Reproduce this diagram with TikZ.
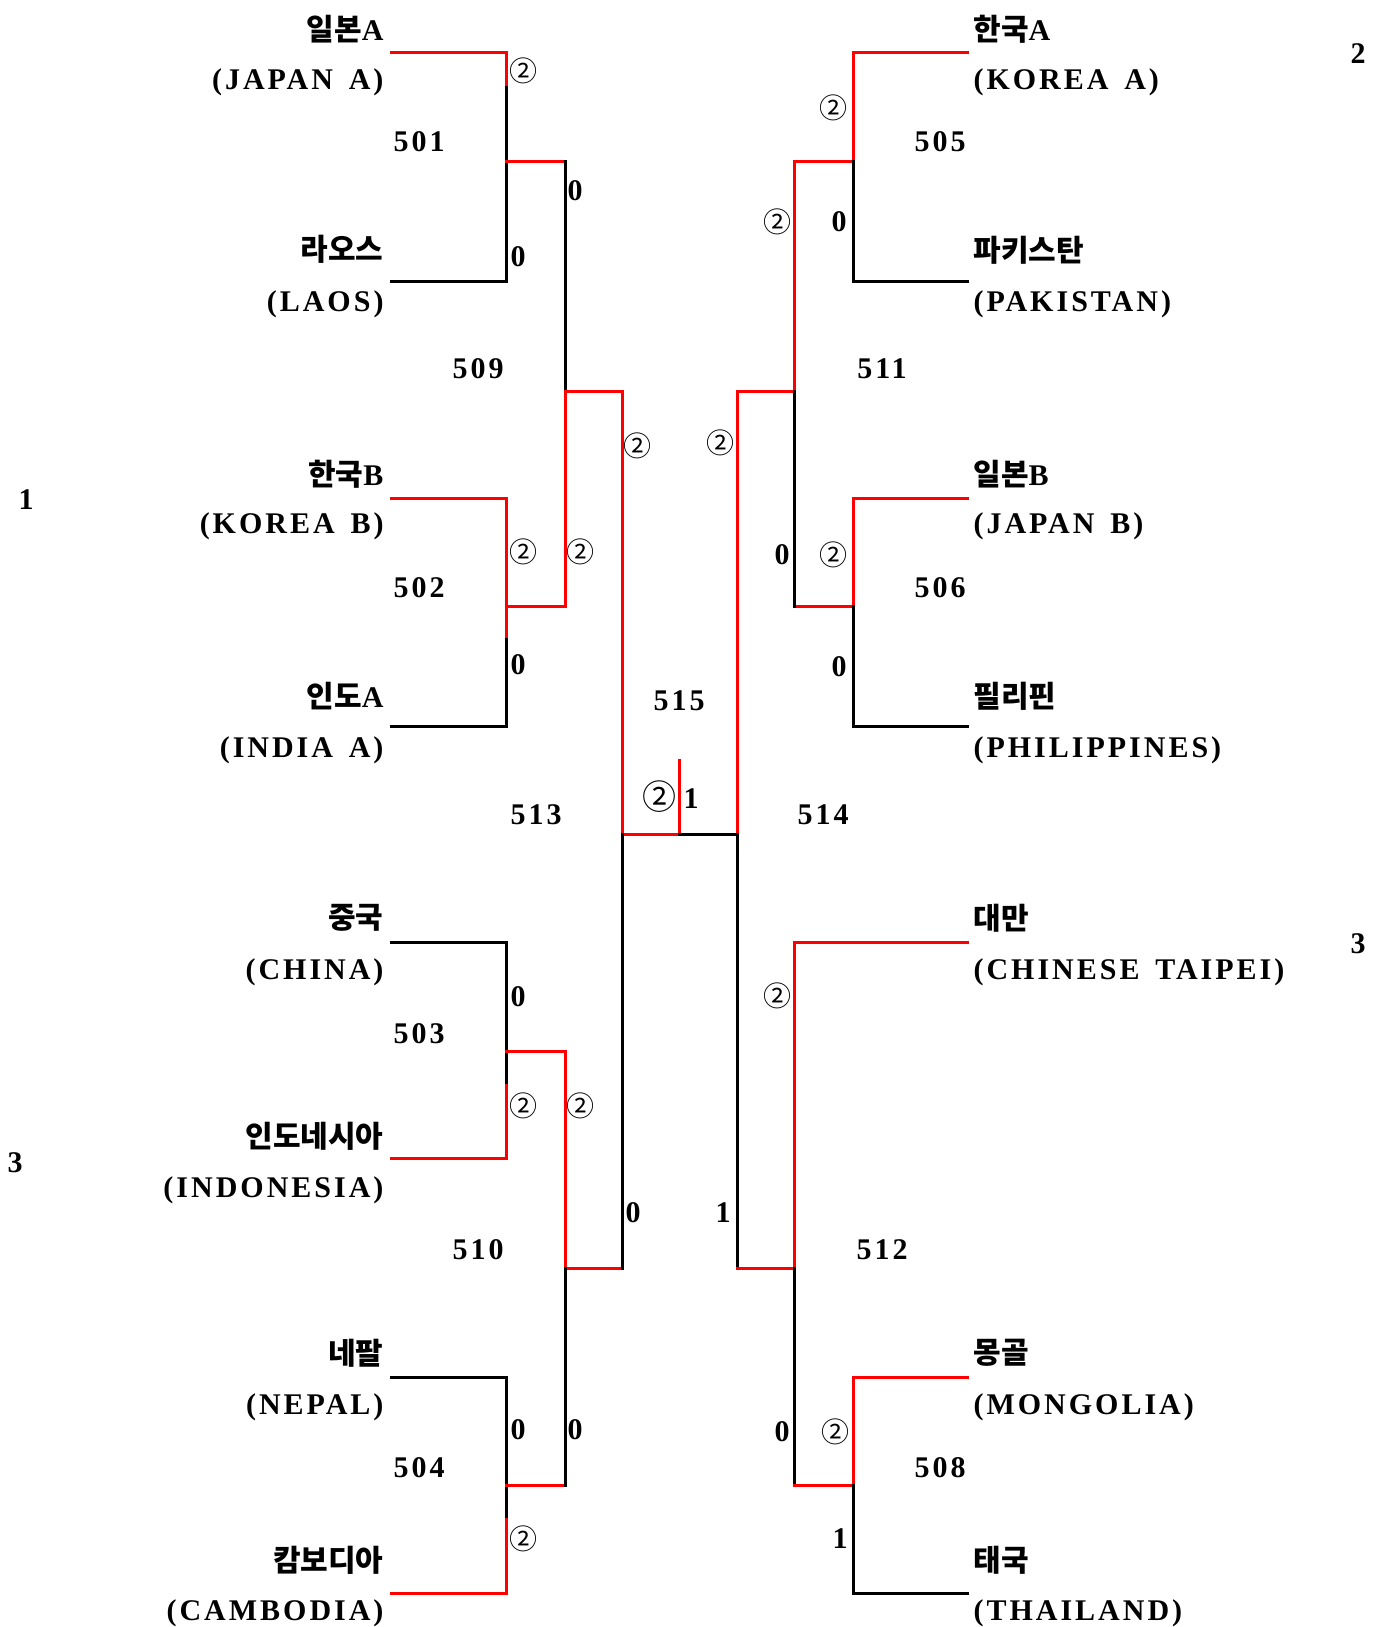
\documentclass[tikz,border=0pt]{standalone}
\usepackage{fontspec}
\setmainfont{Liberation Serif}[LetterSpace=10,WordSpace=1.5]
\newfontfamily\krfont{Noto Sans CJK KR}
\newfontfamily\circfont{Noto Sans CJK KR}

\begin{document}
\begin{tikzpicture}[x=0.5pt,y=-0.5pt,line width=1.5pt,line cap=rect,
  every node/.style={inner sep=0pt,font=\fontsize{15pt}{18pt}\selectfont\bfseries},
  win/.style={red},
  lname/.style={anchor=east},
  rname/.style={anchor=west},
  circ/.style={font=\circfont\fontsize{14pt}{16pt}\selectfont},
  bigcirc/.style={font=\circfont\fontsize{17pt}{19pt}\selectfont}]
\path[use as bounding box,fill=white] (0,0) rectangle (1380,1627);

\coordinate (JPA) at (391,53);   \coordinate (LAO) at (391,281);
\coordinate (KORB) at (391,498); \coordinate (IND) at (391,726);
\coordinate (CHN) at (391,942);  \coordinate (IDN) at (391,1158);
\coordinate (NEP) at (391,1377); \coordinate (CAM) at (391,1593);
\coordinate (KORA) at (967,53);  \coordinate (PAK) at (967,281);
\coordinate (JPB) at (967,498);  \coordinate (PHI) at (967,726);
\coordinate (TPE) at (967,942);
\coordinate (MGL) at (967,1377); \coordinate (THA) at (967,1593);

\coordinate (m501) at (506,161);  \coordinate (s501) at (506,88);
\coordinate (m502) at (506,606);  \coordinate (s502) at (506,639);
\coordinate (m503) at (506,1051); \coordinate (s503) at (506,1085);
\coordinate (m504) at (506,1485); \coordinate (s504) at (506,1519);
\coordinate (m509) at (565,391);  \coordinate (m510) at (565,1268);
\coordinate (m513) at (622,834);
\coordinate (c515) at (679,834);  \coordinate (t515) at (679,760);
\coordinate (m514) at (737,834);
\coordinate (m511) at (794,391);  \coordinate (m512) at (794,1268);
\coordinate (m505) at (853,161);  \coordinate (m506) at (853,606);
\coordinate (m508) at (853,1485);

\draw[win] (JPA) -| (s501);  \draw (LAO) -| (s501);
\draw[win] (m501) -- (m501-|m509);
\draw[win] (KORB) -| (s502); \draw (IND) -| (s502);
\draw[win] (m502) -- (m502-|m509);
\draw (CHN) -| (s503);       \draw[win] (IDN) -| (s503);
\draw[win] (m503) -- (m503-|m510);
\draw (NEP) -| (s504);       \draw[win] (CAM) -| (s504);
\draw[win] (m504) -- (m504-|m510);
\draw (m501-|m509) -- (m509);
\draw[win] (m502-|m509) -- (m509) -- (m509-|m513);
\draw[win] (m503-|m510) -- (m510) -- (m510-|m513);
\draw (m504-|m510) -- (m510);
\draw[win] (m509-|m513) -- (m513) -- (c515) -- (t515);
\draw (m510-|m513) -- (m513);
\draw (c515) -- (m514);
\draw[win] (m511-|m514) -- (m514);
\draw (m512-|m514) -- (m514);
\draw[win] (KORA) -| (m505) -- (m505-|m511); \draw (PAK) -| (m505);
\draw[win] (JPB) -| (m506) -- (m506-|m511);  \draw (PHI) -| (m506);
\draw[win] (m505-|m511) -- (m511) -- (m511-|m514);
\draw (m506-|m511) -- (m511);
\draw[win] (TPE) -| (m512) -- (m512-|m514);
\draw (m508-|m512) -- (m512);
\draw[win] (MGL) -| (m508) -- (m508-|m512); \draw (THA) -| (m508);

\node[lname] (JPAk) at (385,29) {{\krfont 일본}A};
\node[lname] (JPAe) at (385,82) {(JAPAN A)};
\node[lname] (LAOk) at (385,249) {{\krfont 라오스}};
\node[lname] (LAOe) at (385,304) {(LAOS)};
\node[lname] (KORBk) at (385,474) {{\krfont 한국}B};
\node[lname] (KORBe) at (385,526) {(KOREA B)};
\node[lname] (INDk) at (385,696) {{\krfont 인도}A};
\node[lname] (INDe) at (385,750) {(INDIA A)};
\node[lname] (CHNk) at (385,918) {{\krfont 중국}};
\node[lname] (CHNe) at (385,972) {(CHINA)};
\node[lname] (IDNk) at (385,1136) {{\krfont 인도네시아}};
\node[lname] (IDNe) at (385,1190) {(INDONESIA)};
\node[lname] (NEPk) at (385,1353) {{\krfont 네팔}};
\node[lname] (NEPe) at (385,1407) {(NEPAL)};
\node[lname] (CAMk) at (385,1560) {{\krfont 캄보디아}};
\node[lname] (CAMe) at (385,1613) {(CAMBODIA)};
\node[rname] (KORAk) at (972,29) {{\krfont 한국}A};
\node[rname] (KORAe) at (972,82) {(KOREA A)};
\node[rname] (PAKk) at (972,250) {{\krfont 파키스탄}};
\node[rname] (PAKe) at (972,304) {(PAKISTAN)};
\node[rname] (JPBk) at (972,474) {{\krfont 일본}B};
\node[rname] (JPBe) at (972,526) {(JAPAN B)};
\node[rname] (PHIk) at (972,696) {{\krfont 필리핀}};
\node[rname] (PHIe) at (972,750) {(PHILIPPINES)};
\node[rname] (TPEk) at (972,918) {{\krfont 대만}};
\node[rname] (TPEe) at (972,972) {(CHINESE TAIPEI)};
\node[rname] (MGLk) at (972,1353) {{\krfont 몽골}};
\node[rname] (MGLe) at (972,1407) {(MONGOLIA)};
\node[rname] (THAk) at (972,1560) {{\krfont 태국}};
\node[rname] (THAe) at (972,1613) {(THAILAND)};

\node (n501) at (419,142) {501};
\node (n502) at (419,588) {502};
\node (n503) at (419,1034) {503};
\node (n504) at (419,1468) {504};
\node (n509) at (478,369) {509};
\node (n510) at (478,1250) {510};
\node (n513) at (536,815) {513};
\node (n515) at (679,701) {515};
\node (n514) at (823,815) {514};
\node (n505) at (940,142) {505};
\node (n511) at (882,369) {511};
\node (n506) at (940,588) {506};
\node (n512) at (882,1250) {512};
\node (n508) at (940,1468) {508};

\node[circ] (g501a) at (523,71) {②};   \node (g501b) at (518,257) {0};
\node[circ] (g502a) at (523,552) {②};  \node (g502b) at (518,665) {0};
\node (g503a) at (518,997) {0};         \node[circ] (g503b) at (523,1106) {②};
\node (g504a) at (518,1430) {0};        \node[circ] (g504b) at (523,1539) {②};
\node (g509a) at (575,191) {0};         \node[circ] (g509b) at (580,552) {②};
\node[circ] (g510a) at (580,1106) {②}; \node (g510b) at (575,1430) {0};
\node[circ] (g513a) at (637,446) {②};  \node (g513b) at (633,1213) {0};
\node[bigcirc] (g515a) at (659,797) {②}; \node (g515b) at (691,799) {1};
\node[circ] (g505a) at (833,108) {②};  \node (g505b) at (839,222) {0};
\node[circ] (g511a) at (777,222) {②};  \node (g511b) at (782,555) {0};
\node[circ] (g506a) at (833,555) {②};  \node (g506b) at (839,667) {0};
\node[circ] (g514a) at (720,443) {②};  \node (g514b) at (723,1213) {1};
\node[circ] (g512a) at (777,996) {②};  \node (g512b) at (782,1432) {0};
\node[circ] (g508a) at (835,1432) {②}; \node (g508b) at (840,1539) {1};

\node (rk1) at (26,500) {1};
\node (rk2) at (1358,54) {2};
\node (rk3a) at (1358,944) {3};
\node (rk3b) at (15,1163) {3};
\end{tikzpicture}
\end{document}
